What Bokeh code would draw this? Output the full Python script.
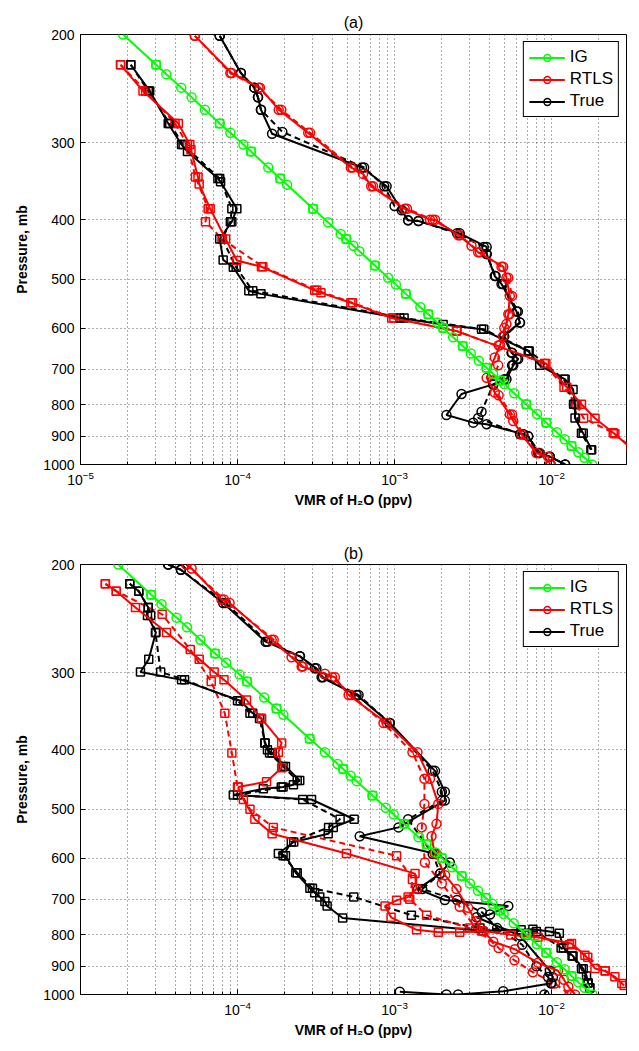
from bokeh.plotting import figure
from bokeh.models import (Range1d, FixedTicker, PrintfTickFormatter, LogTickFormatter,
                          Legend, LegendItem, ColumnDataSource)
from bokeh.layouts import column
from bokeh.embed import file_html
from bokeh.resources import INLINE

# ---------------- data: panel (a) ----------------
A_IG_P = [200, 224, 232, 244, 253, 265, 279, 289, 302, 310, 329, 343, 351, 384, 404, 422, 430, 441, 450, 475,
          497, 510, 528, 555, 570, 588, 600, 621, 642, 660, 678, 696, 712, 730, 740, 766, 798, 828, 855, 886,
          910, 933, 955, 975, 1000]
A_IG_V = [1.87e-5, 3.03e-5, 3.52e-5, 4.38e-5, 5.1e-5, 6.2e-5, 7.7e-5, 9.0e-5, 1.09e-4, 1.22e-4, 1.57e-4, 1.87e-4,
          2.07e-4, 3.03e-4, 3.77e-4, 4.54e-4, 4.92e-4, 5.47e-4, 5.97e-4, 7.5e-4, 9.1e-4, 1.02e-3, 1.18e-3, 1.46e-3,
          1.64e-3, 1.87e-3, 2.04e-3, 2.36e-3, 2.72e-3, 3.06e-3, 3.44e-3, 3.85e-3, 4.24e-3, 4.71e-3, 4.99e-3,
          5.78e-3, 6.89e-3, 8.07e-3, 9.25e-3, 1.08e-2, 1.21e-2, 1.34e-2, 1.48e-2, 1.62e-2, 1.81e-2]

A_TRUE_C_P = [201, 231, 244, 253, 265, 290, 329, 353, 386, 401, 402, 421, 443, 455, 494, 509, 564, 588, 619, 658,
              674, 690, 727, 741, 768, 831, 855, 860, 893, 900, 958, 971, 1000]
A_TRUE_C_V = [7.7e-5, 1.05e-4, 1.28e-4, 1.35e-4, 1.41e-4, 1.66e-4, 6.2e-4, 8.9e-4, 1.11e-3, 1.22e-3, 1.42e-3,
              2.6e-3, 3.86e-3, 3.86e-3, 4.35e-3, 4.8e-3, 5.98e-3, 6.28e-3, 4.92e-3, 5.56e-3, 6.13e-3, 5.7e-3,
              5.16e-3, 4.25e-3, 2.67e-3, 2.14e-3, 3.17e-3, 3.86e-3, 6.6e-3, 7.1e-3, 8.2e-3, 9.75e-3, 1.22e-2]
A_TRUE_CD_P = [201, 231, 244, 253, 265, 288, 329, 353, 380, 401, 402, 421, 443, 455, 494, 509, 564, 588, 619, 658,
               674, 690, 727, 741, 821, 840, 893, 900, 958, 971, 1000]
A_TRUE_CD_V = [7.7e-5, 1.05e-4, 1.28e-4, 1.35e-4, 1.41e-4, 1.93e-4, 6.4e-4, 8.6e-4, 1.0e-3, 1.22e-3, 1.42e-3,
               2.5e-3, 3.7e-3, 3.86e-3, 4.4e-3, 4.9e-3, 6.1e-3, 6.3e-3, 5.0e-3, 5.6e-3, 6.0e-3, 5.6e-3, 5.0e-3,
               4.25e-3, 3.58e-3, 3.41e-3, 6.3e-3, 7.1e-3, 8.4e-3, 9.75e-3, 1.22e-2]

A_RTLS_C_P = [201, 231, 244, 265, 289, 329, 337, 353, 384, 400, 400, 424, 441, 452, 477, 497, 532, 570, 591, 619,
              640, 670, 723, 764, 829, 850, 893, 958, 971, 1000]
A_RTLS_C_V = [5.35e-5, 9.16e-5, 1.39e-4, 1.83e-4, 2.82e-4, 5.27e-4, 6.3e-4, 7.1e-4, 1.16e-3, 1.68e-3, 1.81e-3,
              2.55e-3, 3.09e-3, 3.41e-3, 4.92e-3, 5.16e-3, 5.42e-3, 5.3e-3, 5.16e-3, 4.92e-3, 4.69e-3, 4.35e-3,
              3.86e-3, 4.35e-3, 5.42e-3, 5.7e-3, 6.44e-3, 8.0e-3, 9.5e-3, 9.76e-3]
A_RTLS_CD_P = [201, 231, 244, 265, 289, 329, 353, 384, 400, 424, 452, 477, 497, 532, 570, 600, 640, 690, 730, 772,
               829, 893, 958, 1000]
A_RTLS_CD_V = [5.35e-5, 9.0e-5, 1.36e-4, 1.9e-4, 2.9e-4, 5.4e-4, 7.3e-4, 1.2e-3, 1.75e-3, 2.6e-3, 3.5e-3, 4.8e-3,
               5.3e-3, 5.6e-3, 5.4e-3, 5.0e-3, 4.6e-3, 4.57e-3, 4.2e-3, 4.6e-3, 5.6e-3, 6.6e-3, 8.3e-3, 9.9e-3]

A_TRUE_S_P = [224, 247, 279, 302, 310, 343, 347, 384, 403, 430, 465, 478, 522, 528, 578, 592, 603, 654, 690, 727,
              755, 798, 840, 890, 946]
A_TRUE_S_V = [2.09e-5, 2.76e-5, 3.62e-5, 4.4e-5, 4.8e-5, 7.5e-5, 7.8e-5, 9.9e-5, 9.2e-5, 7.7e-5, 8.1e-5, 9.4e-5,
              1.18e-4, 1.41e-4, 1.08e-3, 2.04e-3, 3.58e-3, 7.1e-3, 8.4e-3, 1.22e-2, 1.37e-2, 1.41e-2, 1.41e-2,
              1.59e-2, 1.8e-2]
A_TRUE_SD_P = [224, 247, 279, 302, 343, 384, 403, 430, 478, 522, 578, 603, 654, 727, 798, 890, 946]
A_TRUE_SD_V = [2.09e-5, 2.7e-5, 3.7e-5, 4.5e-5, 7.7e-5, 9.2e-5, 9.0e-5, 8.0e-5, 9.8e-5, 1.25e-4, 1.15e-3, 3.7e-3,
               7.2e-3, 1.2e-2, 1.38e-2, 1.55e-2, 1.78e-2]

A_RTLS_S_P = [224, 247, 279, 302, 308, 341, 350, 384, 430, 466, 477, 521, 526, 546, 578, 607, 685, 749, 798, 841,
              888, 940]
A_RTLS_S_V = [1.8e-5, 2.5e-5, 4.2e-5, 4.97e-5, 5.05e-5, 5.6e-5, 5.7e-5, 6.7e-5, 8.4e-5, 9.9e-5, 1.42e-4, 3.1e-4,
              3.4e-4, 5.27e-4, 9.6e-4, 2.48e-3, 9.2e-3, 1.25e-2, 1.55e-2, 1.89e-2, 2.47e-2, 3.2e-2]
A_RTLS_SD_P = [224, 247, 279, 302, 341, 384, 403, 430, 477, 521, 546, 578, 607, 685, 749, 800, 841, 891, 945]
A_RTLS_SD_V = [1.8e-5, 2.6e-5, 4.0e-5, 4.8e-5, 5.4e-5, 6.5e-5, 6.25e-5, 8.0e-5, 1.45e-4, 3.2e-4, 5.4e-4, 9.9e-4,
               2.5e-3, 9.0e-3, 1.2e-2, 1.45e-2, 1.6e-2, 2.53e-2, 3.3e-2]

# ---------------- data: panel (b) ----------------
B_IG_P = A_IG_P
B_IG_V = [1.74e-5, 2.82e-5, 3.28e-5, 4.09e-5, 4.77e-5, 5.8e-5, 7.2e-5, 8.45e-5, 1.03e-4, 1.15e-4, 1.48e-4, 1.77e-4,
          1.96e-4, 2.88e-4, 3.6e-4, 4.34e-4, 4.71e-4, 5.25e-4, 5.74e-4, 7.23e-4, 8.8e-4, 9.88e-4, 1.15e-3, 1.42e-3,
          1.6e-3, 1.83e-3, 2.0e-3, 2.32e-3, 2.68e-3, 3.02e-3, 3.4e-3, 3.81e-3, 4.2e-3, 4.67e-3, 4.95e-3, 5.74e-3,
          6.86e-3, 8.05e-3, 9.23e-3, 1.08e-2, 1.21e-2, 1.34e-2, 1.48e-2, 1.62e-2, 1.82e-2]

B_TRUE_C_P = [200, 204, 231, 267, 282, 295, 305, 326, 362, 433, 468, 484, 535, 553, 591, 610, 636, 674, 702, 718,
              741, 749, 802, 915, 937, 959, 988, 1000, 1000, 990]
B_TRUE_C_V = [3.62e-5, 4.36e-5, 8.1e-5, 1.51e-4, 2.49e-4, 3.18e-4, 3.43e-4, 5.73e-4, 9.33e-4, 1.81e-3, 2.09e-3,
              2.09e-3, 1.06e-3, 6.0e-4, 1.85e-3, 2.25e-3, 1.95e-3, 1.41e-3, 2.09e-3, 5.3e-3, 4.05e-3, 3.33e-3,
              6.28e-3, 9.75e-3, 1.02e-2, 1.0e-2, 4.92e-3, 2.54e-3, 2.14e-3, 1.08e-3]
B_TRUE_CD_P = [200, 204, 231, 267, 282, 295, 305, 326, 362, 433, 468, 484, 519, 591, 636, 674, 702, 735, 780, 830,
               900, 937, 959, 1000]
B_TRUE_CD_V = [3.62e-5, 4.36e-5, 8.4e-5, 1.55e-4, 2.5e-4, 3.1e-4, 3.5e-4, 5.9e-4, 9.3e-4, 1.75e-3, 2.0e-3, 2.0e-3,
               1.22e-3, 1.75e-3, 1.95e-3, 1.5e-3, 2.5e-3, 3.6e-3, 4.5e-3, 6.5e-3, 8.0e-3, 9.5e-3, 9.9e-3, 9.0e-3]

B_RTLS_C_P = [200, 203, 228, 231, 265, 283, 293, 301, 305, 326, 362, 404, 446, 490, 528, 553, 590, 640, 674, 723,
              760, 790, 821, 844, 888, 915, 946, 971, 1000]
B_RTLS_C_V = [4.73e-5, 5.1e-5, 7.9e-5, 8.9e-5, 1.65e-4, 2.21e-4, 2.56e-4, 3.6e-4, 4.17e-4, 5.1e-4, 8.9e-4, 1.4e-3,
              1.68e-3, 1.9e-3, 1.85e-3, 1.72e-3, 1.8e-3, 2.1e-3, 2.48e-3, 2.94e-3, 3.3e-3, 3.7e-3, 4.25e-3,
              5.83e-3, 8.2e-3, 1.1e-2, 1.2e-2, 1.28e-2, 1.41e-2]
B_RTLS_CD_P = [200, 228, 265, 293, 305, 326, 362, 404, 446, 490, 535, 610, 660, 720, 780, 840, 880, 920, 960, 1000]
B_RTLS_CD_V = [4.73e-5, 8.2e-5, 1.7e-4, 2.6e-4, 4.0e-4, 5.3e-4, 8.5e-4, 1.3e-3, 1.55e-3, 1.55e-3, 1.49e-3, 1.56e-3,
               2.0e-3, 2.6e-3, 3.3e-3, 4.6e-3, 5.8e-3, 7.6e-3, 1.05e-2, 1.3e-2]

B_TRUE_S_P = [215, 221, 235, 242, 258, 285, 299, 308, 333, 349, 356, 390, 400, 405, 426, 449, 456, 460, 463, 474,
              482, 519, 535, 548, 565, 590, 595, 634, 672, 683, 694, 706, 718, 751, 788, 785, 783, 790, 795, 840,
              866, 908, 933, 958, 975]
B_TRUE_S_V = [2.06e-5, 2.35e-5, 2.7e-5, 2.67e-5, 3.02e-5, 2.72e-5, 2.41e-5, 4.4e-5, 1.04e-4, 1.25e-4, 1.42e-4,
              1.49e-4, 1.55e-4, 1.66e-4, 2.02e-4, 2.49e-4, 2.27e-4, 1.95e-4, 1.46e-4, 9.4e-5, 2.96e-4, 5.53e-4,
              4.07e-4, 3.78e-4, 2.28e-4, 1.82e-4, 2.02e-4, 2.35e-4, 2.89e-4, 3.1e-4, 3.34e-4, 3.6e-4, 3.72e-4,
              4.67e-4, 3.6e-3, 6.4e-3, 7.6e-3, 9.7e-3, 1.12e-2, 1.19e-2, 1.37e-2, 1.59e-2, 1.67e-2, 1.71e-2, 1.75e-2]
B_TRUE_SD_P = [215, 221, 235, 242, 258, 299, 308, 333, 349, 356, 390, 405, 426, 449, 460, 474, 482, 519, 535, 565,
               595, 634, 672, 694, 743, 780, 790, 840, 866, 908, 958, 975]
B_TRUE_SD_V = [2.06e-5, 2.35e-5, 2.7e-5, 2.8e-5, 3.0e-5, 3.24e-5, 4.6e-5, 1.0e-4, 1.2e-4, 1.38e-4, 1.5e-4, 1.6e-4,
               1.95e-4, 2.4e-4, 1.9e-4, 1.0e-4, 2.6e-4, 4.5e-4, 3.8e-4, 2.2e-4, 1.95e-4, 2.4e-4, 3.0e-4, 5.5e-4,
               1.28e-3, 3.5e-3, 8.0e-3, 1.15e-2, 1.35e-2, 1.55e-2, 1.7e-2, 1.75e-2]

B_RTLS_S_P = [215, 221, 235, 258, 285, 299, 308, 332, 356, 390, 404, 428, 451, 460, 482, 519, 548, 590, 636, 674,
              694, 703, 718, 749, 785, 792, 792, 788, 800, 807, 826, 863, 907, 916, 936, 967]
B_RTLS_S_V = [1.44e-5, 1.69e-5, 2.24e-5, 3.53e-5, 5.7e-5, 7.1e-5, 8.2e-5, 1.14e-4, 1.42e-4, 1.91e-4, 1.82e-4,
              1.91e-4, 1.53e-4, 1.01e-4, 1.09e-4, 1.29e-4, 1.66e-4, 4.94e-4, 1.35e-3, 1.38e-3, 1.22e-3, 1.03e-3,
              8.7e-4, 9.5e-4, 1.38e-3, 1.9e-3, 2.6e-3, 3.58e-3, 5.5e-3, 8.2e-3, 1.34e-2, 1.63e-2, 1.89e-2, 2.19e-2,
              2.53e-2, 2.9e-2]
B_RTLS_SD_P = [215, 221, 241, 275, 310, 349, 405, 460, 500, 535, 595, 650, 700, 743, 780, 800, 830, 870, 915, 960]
B_RTLS_SD_V = [1.44e-5, 1.69e-5, 3.31e-5, 5.0e-5, 6.8e-5, 8.3e-5, 9.2e-5, 1.0e-4, 1.2e-4, 1.69e-4, 1.03e-3, 1.3e-3,
               1.25e-3, 1.6e-3, 3.0e-3, 7.0e-3, 1.3e-2, 1.7e-2, 2.2e-2, 2.8e-2]

# indices of IG points drawn with square markers (the dry-profile levels)
IG_SQUARE_IDX = [1, 6, 9, 11, 13, 16, 19, 22, 24, 26, 28, 31, 33, 36, 38, 41]

PRESSURE_TICKS = [200, 300, 400, 500, 600, 700, 800, 900, 1000]
LEGEND_LABELS = ["IG", "RTLS", "True"]

GREEN = "#00ff00"
RED = "#ff0000"
BLACK = "#000000"
FONT = "Liberation Sans"


def series(p, ps, vs, color, marker, dash):
    src = ColumnDataSource(dict(p=ps, v=vs))
    lr = p.line("v", "p", source=src, line_color=color, line_width=2, line_dash=dash)
    size = 9 if marker == "circle" else 8
    sr = p.scatter("v", "p", source=src, marker=marker, size=size, fill_color=None,
                   line_color=color, line_width=1.5)
    return lr, sr


def make_fig(title, xticks, top, bottom, title_valign):
    minor = []
    for e in (-5, -4, -3, -2):
        for k in range(2, 10):
            minor.append(k * 10.0 ** e)
    p = figure(frame_width=546, frame_height=430, x_axis_type="log", y_axis_type="log",
               x_range=Range1d(1e-5, 3e-2), y_range=Range1d(1000, 200),
               output_backend="svg", toolbar_location=None,
               min_border_left=80, min_border_right=13, min_border_top=top, min_border_bottom=bottom)
    p.title.text = title
    p.title.align = "center"
    p.title.vertical_align = title_valign
    p.title.text_font = FONT
    p.title.text_font_size = "16px"
    p.title.text_font_style = "normal"
    p.title.text_color = "black"
    p.title.standoff = 4
    p.title.offset = 0

    p.xaxis.ticker = FixedTicker(ticks=xticks, minor_ticks=minor)
    p.xaxis.formatter = LogTickFormatter()
    p.yaxis.ticker = FixedTicker(ticks=PRESSURE_TICKS, minor_ticks=[])
    p.yaxis.formatter = PrintfTickFormatter(format="%d")

    for ax in (p.xaxis, p.yaxis):
        ax.major_tick_in = 5
        ax.major_tick_out = 0
        ax.minor_tick_in = 3
        ax.minor_tick_out = 0
        ax.axis_line_color = "black"
        ax.major_label_text_font = FONT
        ax.major_label_text_font_size = "14px"
        ax.major_label_text_color = "black"
        ax.axis_label_text_font = FONT
        ax.axis_label_text_font_size = "14px"
        ax.axis_label_text_font_style = "bold"
        ax.axis_label_text_color = "black"
    p.xaxis.axis_label = "VMR of H\u2082O (ppv)"
    p.yaxis.axis_label = "Pressure, mb"
    p.xaxis.major_label_standoff = 6
    p.xaxis.axis_label_standoff = 4
    p.yaxis.major_label_standoff = 6
    p.yaxis.axis_label_standoff = 10

    p.xgrid.grid_line_color = "#333333"
    p.xgrid.grid_line_dash = "1 3"
    p.xgrid.grid_line_alpha = 0.8
    p.xgrid.minor_grid_line_color = "#333333"
    p.xgrid.minor_grid_line_dash = "1 3"
    p.xgrid.minor_grid_line_alpha = 0.8
    p.ygrid.grid_line_color = "#333333"
    p.ygrid.grid_line_dash = "1 3"
    p.ygrid.grid_line_alpha = 0.8

    p.outline_line_color = "black"
    p.outline_line_width = 1
    p.background_fill_color = "white"
    p.border_fill_color = "white"
    return p


def draw_panel(p, ig_p, ig_v, groups):
    for ps, vs, col, mk in groups["dash"]:
        series(p, ps, vs, col, mk, "6 4")
    solid = []
    for ps, vs, col, mk in groups["solid"]:
        solid.append(series(p, ps, vs, col, mk, "solid"))
    src = ColumnDataSource(dict(p=ig_p, v=ig_v))
    gl = p.line("v", "p", source=src, line_color=GREEN, line_width=2)
    gs = p.scatter("v", "p", source=src, marker="circle", size=9, fill_color=None,
                   line_color=GREEN, line_width=1.5)
    sq = ColumnDataSource(dict(p=[ig_p[i] for i in IG_SQUARE_IDX], v=[ig_v[i] for i in IG_SQUARE_IDX]))
    p.scatter("v", "p", source=sq, marker="square", size=8, fill_color=None,
              line_color=GREEN, line_width=1.5)
    items = [LegendItem(label=LEGEND_LABELS[0], renderers=[gl, gs]),
             LegendItem(label=LEGEND_LABELS[1], renderers=list(solid[2])),
             LegendItem(label=LEGEND_LABELS[2], renderers=list(solid[0]))]
    lg = Legend(items=items, location="top_right")
    lg.border_line_color = "black"
    lg.border_line_width = 1
    lg.border_line_alpha = 1.0
    lg.label_text_font = FONT
    lg.label_text_font_size = "17px"
    lg.label_text_color = "black"
    lg.label_standoff = 5
    lg.glyph_width = 36
    lg.glyph_height = 17
    lg.label_height = 17
    lg.spacing = 2
    lg.padding = 5
    lg.margin = 7
    lg.background_fill_alpha = 1.0
    p.add_layout(lg)


pa = make_fig("(a)", [1e-5, 1e-4, 1e-3, 1e-2], 34, 66, "top")
draw_panel(pa, A_IG_P, A_IG_V, {
    "dash": [(A_TRUE_CD_P, A_TRUE_CD_V, BLACK, "circle"), (A_RTLS_CD_P, A_RTLS_CD_V, RED, "circle"),
             (A_TRUE_SD_P, A_TRUE_SD_V, BLACK, "square"), (A_RTLS_SD_P, A_RTLS_SD_V, RED, "square")],
    "solid": [(A_TRUE_C_P, A_TRUE_C_V, BLACK, "circle"), (A_TRUE_S_P, A_TRUE_S_V, BLACK, "square"),
              (A_RTLS_C_P, A_RTLS_C_V, RED, "circle"), (A_RTLS_S_P, A_RTLS_S_V, RED, "square")],
})

pb = make_fig("(b)", [1e-4, 1e-3, 1e-2], 34, 49, "middle")
draw_panel(pb, B_IG_P, B_IG_V, {
    "dash": [(B_TRUE_CD_P, B_TRUE_CD_V, BLACK, "circle"), (B_RTLS_CD_P, B_RTLS_CD_V, RED, "circle"),
             (B_TRUE_SD_P, B_TRUE_SD_V, BLACK, "square"), (B_RTLS_SD_P, B_RTLS_SD_V, RED, "square")],
    "solid": [(B_TRUE_C_P, B_TRUE_C_V, BLACK, "circle"), (B_TRUE_S_P, B_TRUE_S_V, BLACK, "square"),
              (B_RTLS_C_P, B_RTLS_C_V, RED, "circle"), (B_RTLS_S_P, B_RTLS_S_V, RED, "square")],
})

layout = column(pa, pb, spacing=0)
open("out.html", "w").write(file_html(layout, INLINE))
